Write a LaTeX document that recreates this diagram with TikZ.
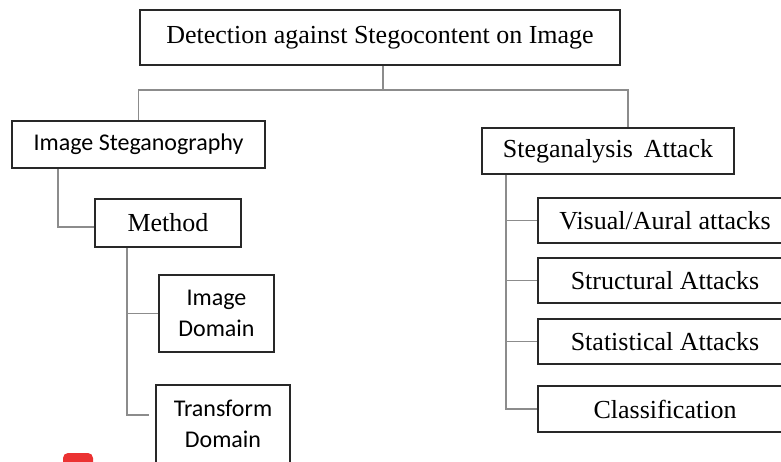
\documentclass[tikz,border=0pt]{standalone}
\usepackage{fontspec}
\setmainfont{Liberation Serif}
\newfontfamily\calib{Carlito}
\usetikzlibrary{calc}
\definecolor{linegray}{RGB}{140,140,140}
\definecolor{boxgray}{RGB}{40,40,40}
\definecolor{markred}{RGB}{235,50,50}
\tikzset{%
	box/.style args={#1 and #2}{draw=boxgray, line width=1.6pt, inner sep=0pt,
		minimum width=#1, minimum height=#2, align=center},
	serif/.style={font=\fontsize{26}{31}\selectfont},
	sans/.style={font=\calib\fontsize{24}{31}\selectfont},
	link/.style={draw=linegray, line width=1.1pt}
}
\begin{document}
\begin{tikzpicture}[x=1pt, y=-1pt]
				\useasboundingbox (0,0) rectangle (781,461);
				\clip (0,0) rectangle (781,461);
				\node [box=480pt and 55pt, serif] (top) at (380, 37.5) {Detection against Stegocontent on Image};
				\node [box=253pt and 47pt, sans] (steg) at (138.5, 144.5) {Image Steganography};
				\node [box=252pt and 46pt, serif] (attack) at (608, 151) {Steganalysis\, Attack};
				\node [box=146pt and 48pt, serif] (method) at (168, 223) {Method};
				\node [box=115pt and 77pt, sans] (imgdom) at (216.5, 313.5) {Image\\Domain};
				\node [box=134pt and 78pt, sans] (trdom) at (223, 424) {Transform\\Domain};
				\node [box=254pt and 45pt, serif] (visual) at (665, 220.5) {Visual/Aural attacks};
				\node [box=254pt and 45pt, serif] (struct) at (665, 280.5) {Structural Attacks};
				\node [box=254pt and 45pt, serif] (stat) at (665, 341.5) {Statistical Attacks};
				\node [box=254pt and 46pt, serif] (class) at (665, 409) {Classification};
				\coordinate (split) at (383, 90);
				\coordinate (trend) at (149, 415);
				\draw [link] ([xshift=3pt]top.south) -- (split);
				\draw [link] (steg.north) |- (split) -| ([xshift=20pt]attack.north);
				\draw [link] ([xshift=-80.5pt]steg.south) |- ([yshift=-4pt]method.west);
				\draw [link] ([xshift=-41pt]method.south) |- (trend);
				\draw [link] ([xshift=-41pt]method.south) |- (imgdom.west);
				\draw [link] ([xshift=-102pt]attack.south) |- (class.west);
				\foreach \n in {visual, struct, stat}
					\draw [link] ([xshift=-102pt]attack.south) |- (\n.west);
				\fill [markred, rounded corners=5pt] (63, 453) rectangle (93, 475);
			\end{tikzpicture}
\end{document}
